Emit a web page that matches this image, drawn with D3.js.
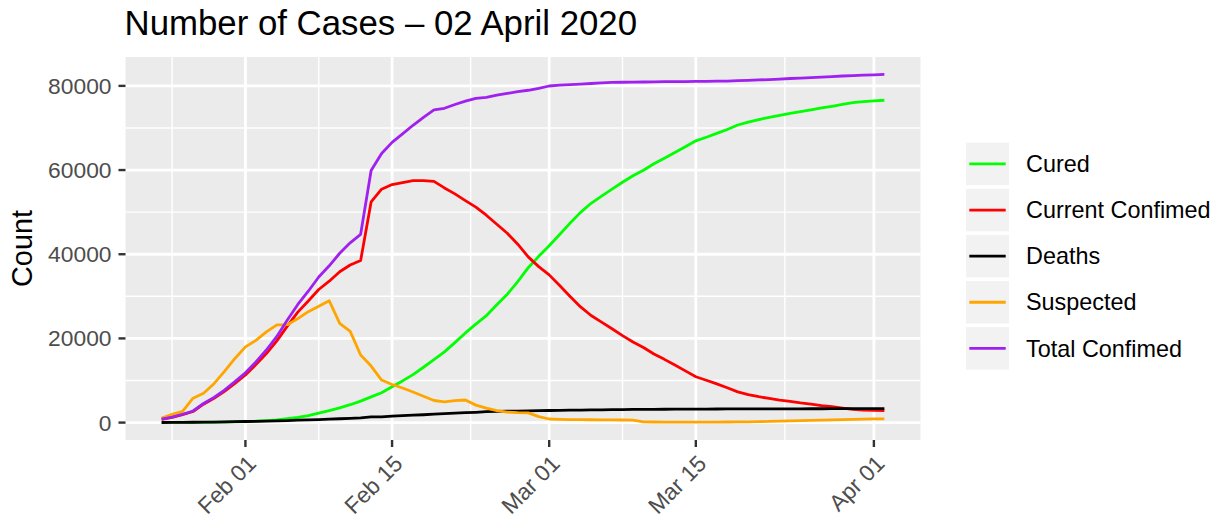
<!DOCTYPE html>
<html>
<head>
<meta charset="utf-8">
<script src="https://cdn.jsdelivr.net/npm/d3@7"></script>
<style>
  html, body { margin: 0; padding: 0; background: #ffffff; }
  svg { display: block; font-family: "Liberation Sans", Arial, Helvetica, sans-serif; }
</style>
</head>
<body>
<svg id="chart" width="1225" height="520"></svg>
<script>
const dates = [
  "2020-01-24","2020-01-25","2020-01-26","2020-01-27","2020-01-28","2020-01-29","2020-01-30","2020-01-31",
  "2020-02-01","2020-02-02","2020-02-03","2020-02-04","2020-02-05","2020-02-06","2020-02-07","2020-02-08",
  "2020-02-09","2020-02-10","2020-02-11","2020-02-12","2020-02-13","2020-02-14","2020-02-15","2020-02-16",
  "2020-02-17","2020-02-18","2020-02-19","2020-02-20","2020-02-21","2020-02-22","2020-02-23","2020-02-24",
  "2020-02-25","2020-02-26","2020-02-27","2020-02-28","2020-02-29",
  "2020-03-01","2020-03-02","2020-03-03","2020-03-04","2020-03-05","2020-03-06","2020-03-07","2020-03-08",
  "2020-03-09","2020-03-10","2020-03-11","2020-03-12","2020-03-13","2020-03-14","2020-03-15","2020-03-16",
  "2020-03-17","2020-03-18","2020-03-19","2020-03-20","2020-03-21","2020-03-22","2020-03-23","2020-03-24",
  "2020-03-25","2020-03-26","2020-03-27","2020-03-28","2020-03-29","2020-03-30","2020-03-31",
  "2020-04-01","2020-04-02"
];

const cured = [
  34, 38, 49, 51, 60, 103, 124, 171,
  243, 328, 475, 632, 950, 1250, 1680, 2250,
  2850, 3500, 4250, 5100, 6100, 7100, 8500, 9900,
  11400, 13150, 14950, 16800, 19000, 21300, 23400, 25400,
  28000, 30500, 33500, 36800, 39500,
  42000, 44700, 47400, 49950, 52100, 53800, 55450, 57100,
  58650, 59950, 61500, 62800, 64150, 65550, 66950, 67800,
  68700, 69650, 70700, 71400, 72000, 72500, 73000, 73450,
  73900, 74300, 74750, 75150, 75600, 76000, 76250,
  76430, 76580
];

const currentConfirmed = [
  776, 1218, 1880, 2630, 4371, 5762, 7442, 9336,
  11319, 13779, 16402, 19414, 22923, 26247, 28895, 31626,
  33590, 35827, 37442, 38517, 52415, 55452, 56553, 57019,
  57465, 57510, 57325, 55757, 54333, 52747, 51199, 49270,
  47116, 44975, 42386, 39371, 37054,
  35098, 32562, 29959, 27491, 25453, 23868, 22293, 20662,
  19135, 17838, 16297, 15023, 13677, 12282, 10899, 10064,
  9190, 8264, 7290, 6652, 6161, 5737, 5330, 5020,
  4665, 4373, 4036, 3768, 3441, 3143, 2990,
  2889, 2826
];

const deaths = [
  25, 41, 56, 80, 106, 132, 170, 213,
  259, 304, 361, 425, 490, 563, 636, 722,
  811, 908, 1016, 1113, 1367, 1380, 1523, 1665,
  1770, 1868, 2004, 2118, 2236, 2345, 2442, 2592,
  2663, 2715, 2744, 2788, 2835,
  2870, 2912, 2943, 2981, 3012, 3042, 3070, 3097,
  3119, 3136, 3158, 3169, 3176, 3189, 3199, 3213,
  3226, 3237, 3245, 3248, 3255, 3261, 3270, 3277,
  3281, 3287, 3292, 3295, 3300, 3304, 3305,
  3312, 3318
];

const suspected = [
  1072, 1965, 2684, 5794, 6973, 9239, 12167, 15238,
  17988, 19544, 21558, 23214, 23260, 24702, 26359, 27657,
  28942, 23589, 21675, 16067, 13435, 10109, 9054, 8228,
  7264, 6242, 5248, 4922, 5206, 5365, 4148, 3434,
  2824, 2491, 2358, 2308, 1418,
  851, 760, 720, 690, 670, 650, 630, 610,
  580, 150, 140, 130, 120, 120, 120, 125,
  130, 140, 160, 190, 230, 280, 330, 390,
  450, 510, 570, 630, 690, 750, 810,
  860, 900
];

const totalConfirmed = [
  835, 1297, 1985, 2761, 4537, 5997, 7736, 9720,
  11821, 14411, 17238, 20471, 24363, 28060, 31211, 34598,
  37251, 40235, 42708, 44730, 59882, 63932, 66576, 68584,
  70635, 72528, 74279, 74675, 75569, 76392, 77041, 77262,
  77779, 78190, 78630, 78959, 79389,
  79968, 80174, 80302, 80422, 80565, 80710, 80813, 80859,
  80904, 80924, 80955, 80992, 81003, 81021, 81048, 81077,
  81116, 81151, 81235, 81300, 81416, 81498, 81600, 81747,
  81846, 81960, 82078, 82213, 82341, 82447, 82545,
  82631, 82724
];

const seriesNames = ["Cured", "Current Confimed", "Deaths", "Suspected", "Total Confimed"];
const seriesValues = [cured, currentConfirmed, deaths, suspected, totalConfirmed];
const seriesColors = ["#00FF00", "#FF0000", "#000000", "#FFA500", "#A020F0"];

const xTickDates = ["2020-02-01", "2020-02-15", "2020-03-01", "2020-03-15", "2020-04-01"];
const xTickLabels = ["Feb 01", "Feb 15", "Mar 01", "Mar 15", "Apr 01"];
const yTicks = [0, 20000, 40000, 60000, 80000];
const yTickLabels = ["0", "20000", "40000", "60000", "80000"];
const yMinor = [10000, 30000, 50000, 70000];

const titleText = "Number of Cases \u2013 02 April 2020";
const yTitle = "Count";

// ---------- layout ----------
const panel = { left: 125.5, right: 920.5, top: 57, bottom: 440 };
const parse = d3.timeParse("%Y-%m-%d");
const dateObjs = dates.map(parse);

const t0 = dateObjs[0].getTime(), t1 = dateObjs[dateObjs.length - 1].getTime();
const tPad = (t1 - t0) * 0.05;
const x = d3.scaleTime()
  .domain([new Date(t0 - tPad), new Date(t1 + tPad)])
  .range([panel.left, panel.right]);

const allVals = seriesValues.flat();
const vMin = d3.min(allVals), vMax = d3.max(allVals);
const vMinC = Math.min(0, vMin);
const vPad = (vMax - vMinC) * 0.05;
const y = d3.scaleLinear()
  .domain([vMinC - vPad, vMax + vPad])
  .range([panel.bottom, panel.top]);

const svg = d3.select("#chart");

// panel background
svg.append("rect")
  .attr("x", panel.left).attr("y", panel.top)
  .attr("width", panel.right - panel.left).attr("height", panel.bottom - panel.top)
  .attr("fill", "#EBEBEB");

const grid = svg.append("g");

// minor x gridlines: midpoints of major breaks (extended at both ends)
const majorX = xTickDates.map(d => x(parse(d)));
const minorX = [];
minorX.push(majorX[0] - (majorX[1] - majorX[0]) / 2);
for (let i = 0; i < majorX.length - 1; i++) minorX.push((majorX[i] + majorX[i + 1]) / 2);
minorX.push(majorX[majorX.length - 1] + (majorX[majorX.length - 1] - majorX[majorX.length - 2]) / 2);

grid.selectAll("line.minx").data(minorX.filter(v => v > panel.left && v < panel.right))
  .enter().append("line")
  .attr("x1", d => d).attr("x2", d => d)
  .attr("y1", panel.top).attr("y2", panel.bottom)
  .attr("stroke", "#ffffff").attr("stroke-width", 1.4);

grid.selectAll("line.miny").data(yMinor)
  .enter().append("line")
  .attr("x1", panel.left).attr("x2", panel.right)
  .attr("y1", d => y(d)).attr("y2", d => y(d))
  .attr("stroke", "#ffffff").attr("stroke-width", 1.4);

grid.selectAll("line.majx").data(majorX)
  .enter().append("line")
  .attr("x1", d => d).attr("x2", d => d)
  .attr("y1", panel.top).attr("y2", panel.bottom)
  .attr("stroke", "#ffffff").attr("stroke-width", 2.8);

grid.selectAll("line.majy").data(yTicks)
  .enter().append("line")
  .attr("x1", panel.left).attr("x2", panel.right)
  .attr("y1", d => y(d)).attr("y2", d => y(d))
  .attr("stroke", "#ffffff").attr("stroke-width", 2.8);

// lines
const line = d3.line()
  .x(d => x(d.date))
  .y(d => y(d.v));

const plot = svg.append("g");
seriesNames.forEach((name, si) => {
  const data = dateObjs.map((d, i) => ({ date: d, v: seriesValues[si][i] }));
  plot.append("path")
    .datum(data)
    .attr("d", line)
    .attr("fill", "none")
    .attr("stroke", seriesColors[si])
    .attr("stroke-width", 2.8)
    .attr("stroke-linejoin", "round")
    .attr("stroke-linecap", "butt");
});

// y axis ticks & labels
const yAxis = svg.append("g");
yTicks.forEach((t, i) => {
  yAxis.append("line")
    .attr("x1", panel.left - 7).attr("x2", panel.left)
    .attr("y1", y(t)).attr("y2", y(t))
    .attr("stroke", "#333333").attr("stroke-width", 2.4);
  yAxis.append("text")
    .attr("x", panel.left - 14).attr("y", y(t))
    .attr("dy", "0.35em")
    .attr("text-anchor", "end")
    .attr("font-size", 22.8)
    .attr("fill", "#4D4D4D")
    .text(yTickLabels[i]);
});

// x axis ticks & labels
const xAxis = svg.append("g");
xTickDates.forEach((d, i) => {
  const px = x(parse(d));
  xAxis.append("line")
    .attr("x1", px).attr("x2", px)
    .attr("y1", panel.bottom).attr("y2", panel.bottom + 7)
    .attr("stroke", "#333333").attr("stroke-width", 2.4);
  xAxis.append("text")
    .attr("transform", `translate(${px + 12},${panel.bottom + 25}) rotate(-45)`)
    .attr("text-anchor", "end")
    .attr("font-size", 22.8)
    .attr("fill", "#4D4D4D")
    .text(xTickLabels[i]);
});

// y axis title
svg.append("text")
  .attr("transform", `translate(32,${(panel.top + panel.bottom) / 2}) rotate(-90)`)
  .attr("text-anchor", "middle")
  .attr("font-size", 28.8)
  .attr("fill", "#000000")
  .text(yTitle);

// title
svg.append("text")
  .attr("x", panel.left - 1)
  .attr("y", 35)
  .attr("font-size", 34.8)
  .attr("fill", "#000000")
  .text(titleText);

// legend
const legend = svg.append("g");
const keyX = 966, keyW = 43, keyH = 42.5, keyTop = 142.7, keyPitch = 46.1;
seriesNames.forEach((name, i) => {
  const ky = keyTop + i * keyPitch;
  legend.append("rect")
    .attr("x", keyX).attr("y", ky)
    .attr("width", keyW).attr("height", keyH)
    .attr("fill", "#F2F2F2");
  legend.append("line")
    .attr("x1", keyX + 3.3).attr("x2", keyX + keyW - 3.3)
    .attr("y1", ky + keyH / 2).attr("y2", ky + keyH / 2)
    .attr("stroke", seriesColors[i]).attr("stroke-width", 2.8);
  legend.append("text")
    .attr("x", 1026).attr("y", ky + keyH / 2)
    .attr("dy", "0.35em")
    .attr("font-size", 23.4)
    .attr("fill", "#000000")
    .text(name);
});
</script>
</body>
</html>
